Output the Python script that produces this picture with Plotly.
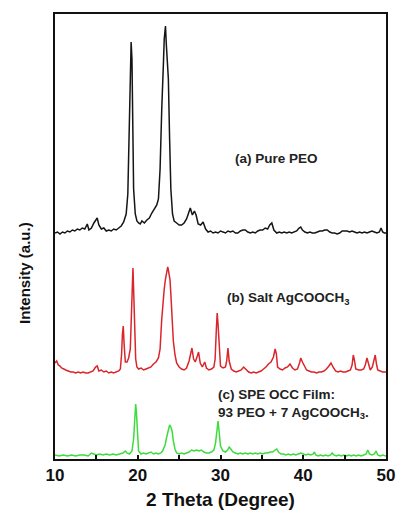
import plotly.graph_objects as go

# ---- data (2 Theta in degrees, intensity in arbitrary units, stacked) ----
pure_peo_2theta = [10.0,10.3,10.6,10.9,11.2,11.5,11.8,12.1,12.4,12.7,13.0,13.3,13.6,13.9,14.1,14.4,14.7,14.9,15.1,15.3,
    15.6,15.9,16.2,16.5,16.8,17.1,17.4,17.7,18.0,18.3,18.6,18.8,19.0,19.1,19.2,19.3,19.4,19.5,19.7,19.9,
    20.1,20.3,20.5,20.8,21.1,21.4,21.7,22.0,22.3,22.5,22.7,22.9,23.0,23.1,23.2,23.35,23.45,23.55,23.7,23.85,
    24.0,24.2,24.4,24.7,25.0,25.3,25.6,25.9,26.2,26.35,26.6,26.85,27.05,27.3,27.6,27.9,28.2,28.5,28.8,29.1,
    29.4,29.7,30.0,30.3,30.6,30.9,31.2,31.5,31.8,32.1,32.4,32.7,33.0,33.3,33.6,33.9,34.2,34.5,34.8,35.1,
    35.4,35.7,35.95,36.2,36.45,36.8,37.1,37.4,37.7,38.0,38.3,38.6,38.9,39.2,39.5,39.7,39.9,40.2,40.5,40.8,
    41.1,41.4,41.7,42.0,42.3,42.6,42.9,43.2,43.5,43.8,44.1,44.4,44.7,45.0,45.3,45.6,45.9,46.2,46.5,46.8,
    47.1,47.4,47.7,48.0,48.3,48.6,48.9,49.2,49.4,49.6,49.8,50.0]
pure_peo_intensity = [226,227,225,227,226,228,227,229,228,230,229,231,230,235,229,231,236,239,241,234,
    230,231,228,229,228,230,229,231,233,237,245,265,330,390,417,400,330,270,245,238,
    236,235,238,236,239,241,246,250,254,260,290,350,387,395,420,433,415,398,380,320,
    270,245,238,236,234,234,236,240,249,251,244,248,244,235,234,237,230,227,228,226,
    227,226,228,227,226,228,227,228,226,226,228,229,229,227,226,227,226,228,229,229,
    231,230,234,236,229,226,227,226,227,226,227,226,227,228,231,232,229,227,226,227,
    226,226,227,228,228,229,229,227,226,226,225,226,228,228,228,227,228,227,226,227,
    226,227,226,227,228,227,226,227,231,227,226,226]

salt_2theta = [10.0,10.2,10.4,10.6,10.8,11.0,11.3,11.6,11.9,12.2,12.5,12.8,13.1,13.4,13.7,14.0,14.3,14.6,14.9,15.1,
    15.3,15.6,15.9,16.2,16.5,16.8,17.1,17.4,17.7,17.9,18.05,18.15,18.25,18.35,18.5,18.7,18.9,19.1,19.2,19.3,
    19.42,19.5,19.6,19.75,19.9,20.1,20.4,20.7,21.0,21.3,21.6,21.9,22.2,22.5,22.7,22.9,23.05,23.2,23.35,23.5,
    23.62,23.7,23.8,23.9,24.0,24.15,24.3,24.5,24.7,25.0,25.3,25.6,25.9,26.2,26.4,26.55,26.75,26.95,27.2,27.35,
    27.55,27.8,28.1,28.3,28.6,28.9,29.2,29.35,29.5,29.6,29.7,29.85,30.0,30.3,30.6,30.75,30.9,31.05,31.3,31.6,
    31.9,32.2,32.5,32.8,33.1,33.4,33.7,34.0,34.3,34.6,34.9,35.2,35.5,35.8,36.1,36.4,36.6,36.75,36.9,37.2,
    37.5,37.8,38.1,38.4,38.7,39.0,39.3,39.55,39.7,39.9,40.1,40.4,40.7,41.0,41.3,41.6,41.9,42.2,42.5,42.8,
    43.1,43.35,43.6,43.9,44.2,44.5,44.8,45.1,45.4,45.7,45.9,46.05,46.2,46.35,46.7,47.0,47.3,47.5,47.7,47.9,
    48.1,48.35,48.55,48.7,48.85,49.0,49.3,49.6,50.0]
salt_intensity = [96,98,94,93,91,90,89,88,87,87,86,87,86,87,86,86,87,88,92,93,
    88,89,87,88,86,87,86,87,88,90,105,125,133,115,97,97,101,110,140,175,
    191,170,130,100,92,90,91,89,90,91,92,95,97,101,110,140,161,170,180,185,
    192,189,185,179,165,140,118,104,96,92,90,89,91,98,106,111,100,97,103,107,
    96,92,97,91,89,90,92,100,130,146,135,105,93,91,92,98,111,98,90,88,
    87,88,89,92,89,87,86,87,86,87,88,90,92,95,97,102,110,105,92,90,
    89,91,92,95,91,89,90,96,101,97,94,89,88,87,87,86,87,87,88,90,
    93,96,92,88,87,88,87,87,88,89,94,104,98,90,89,89,90,94,101,94,
    89,92,100,104,95,89,88,87,87]

spe_2theta = [10.0,10.5,11.0,11.5,12.0,12.5,13.0,13.5,14.0,14.4,14.7,15.0,15.4,15.8,16.2,16.6,17.0,17.4,17.8,18.2,
    18.5,18.7,19.0,19.3,19.5,19.65,19.75,19.85,19.95,20.1,20.4,20.7,21.0,21.3,21.6,21.9,22.2,22.5,22.8,23.0,
    23.3,23.5,23.7,23.85,24.0,24.15,24.3,24.5,24.7,25.0,25.3,25.6,25.9,26.2,26.5,26.8,27.1,27.4,27.7,28.0,
    28.3,28.6,28.9,29.2,29.4,29.55,29.7,29.85,30.0,30.3,30.6,30.85,31.05,31.25,31.5,31.8,32.1,32.4,32.7,33.0,
    33.3,33.6,33.9,34.2,34.5,34.8,35.1,35.4,35.7,36.0,36.3,36.6,36.8,37.0,37.3,37.6,37.9,38.2,38.5,38.8,
    39.1,39.4,39.7,40.0,40.3,40.6,40.9,41.2,41.35,41.5,41.8,42.1,42.4,42.7,43.0,43.3,43.5,43.7,44.0,44.3,
    44.6,44.9,45.2,45.5,45.8,46.1,46.4,46.7,47.0,47.3,47.6,47.8,48.0,48.3,48.6,48.8,49.0,49.3,49.6,50.0]
spe_intensity = [4,3,4,3,4,3,4,4,3,6,5,4,5,4,5,4,5,4,5,6,
    8,6,5,8,20,45,55,45,22,8,5,6,5,6,7,5,6,5,6,8,
    14,22,30,34,32,28,18,10,6,5,6,5,6,7,9,8,9,8,9,7,
    6,6,7,9,16,30,38,26,13,8,7,9,12,10,7,6,5,6,5,6,
    5,6,5,6,5,6,5,6,6,7,7,9,10,7,5,5,4,5,4,5,
    4,5,6,5,4,5,4,5,7,4,3,4,3,4,3,4,6,4,3,4,
    3,4,3,4,3,4,3,4,3,4,5,9,5,4,5,8,4,3,4,3]

tick_values = [10, 15, 20, 25, 30, 35, 40, 45, 50]
tick_labels = ["10", "", "20", "", "30", "", "40", "", "50"]

label_a = "(a) Pure PEO"
label_b = "(b) Salt AgCOOCH<sub>3</sub>"
label_c = "(c) SPE OCC Film:<br>93 PEO + 7 AgCOOCH<sub>3</sub>."

FONT = "Arial, Liberation Sans, sans-serif"

fig = go.Figure()
fig.add_trace(go.Scatter(x=pure_peo_2theta, y=pure_peo_intensity, mode="lines",
                         line=dict(color="#151515", width=1.5), showlegend=False))
fig.add_trace(go.Scatter(x=salt_2theta, y=salt_intensity, mode="lines",
                         line=dict(color="#d9262b", width=1.5), showlegend=False))
fig.add_trace(go.Scatter(x=spe_2theta, y=spe_intensity, mode="lines",
                         line=dict(color="#3cdc3c", width=1.5), showlegend=False))

ann_font = dict(family=FONT, size=13.5, color="#222222", weight="bold")
fig.add_annotation(x=36.8, y=301, text=label_a, showarrow=False, font=ann_font,
                   xanchor="center", yanchor="middle")
fig.add_annotation(x=30.6, y=161, text=label_b, showarrow=False, font=ann_font,
                   xanchor="left", yanchor="middle")
fig.add_annotation(x=29.5, y=55, text=label_c, showarrow=False, font=ann_font,
                   xanchor="left", yanchor="middle", align="left")
fig.add_annotation(x=0, xref="paper", y=0.418, yref="paper", text="Intensity (a.u.)",
                   showarrow=False, textangle=-90, xshift=-30,
                   font=dict(family=FONT, size=15, color="#111111", weight="bold"),
                   xanchor="center", yanchor="middle")

fig.update_layout(
    width=397, height=511,
    margin=dict(l=55, r=11, t=14, b=52, autoexpand=False),
    paper_bgcolor="white", plot_bgcolor="white",
    xaxis=dict(range=[10, 50], tickvals=tick_values, ticktext=tick_labels,
               automargin=False,
               ticks="inside", ticklen=4, tickwidth=1.5, tickcolor="#111",
               showline=True, linecolor="#111", linewidth=2, mirror=True,
               showgrid=False, zeroline=False,
               tickfont=dict(family=FONT, size=17, color="#111", weight="bold"),
               title=dict(text="2 Theta (Degree)", standoff=8,
                          font=dict(family=FONT, size=19, color="#111", weight="bold"))),
    yaxis=dict(range=[0, 445], showticklabels=False, ticks="", automargin=False,
               showline=True, linecolor="#111", linewidth=2, mirror=True,
               showgrid=False, zeroline=False),
)

fig.write_html("out.html", config={"displayModeBar": False},
               post_script="document.body.style.margin='0';document.body.style.overflow='hidden';")
